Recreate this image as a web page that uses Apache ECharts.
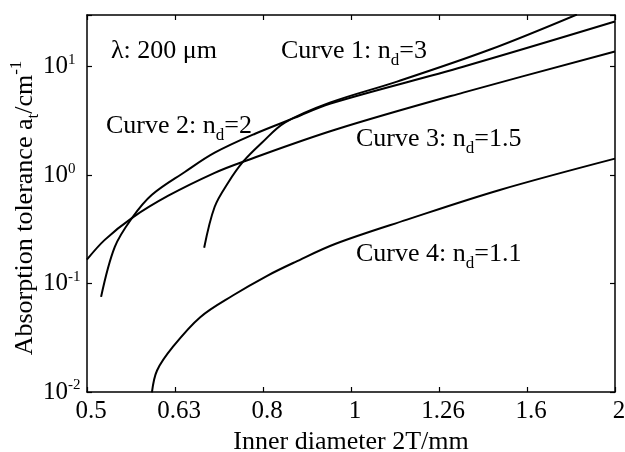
<!DOCTYPE html>
<html><head><meta charset="utf-8">
<script src="https://cdn.jsdelivr.net/npm/echarts@6/dist/echarts.min.js"></script>
<style>html,body{margin:0;padding:0;background:#fff}#c{width:625px;height:452px}</style>
</head><body><div id="c"></div>
<script>
// ---- data ----
const xTickLabels = ['0.5', '0.63', '0.8', '1', '1.26', '1.6', '2'];
const yTickExponents = [-2, -1, 0, 1];

// Curve 1: n_d = 3
const curve1X = [0.681, 0.700, 0.725, 0.754, 0.792, 0.841, 0.946, 1.128, 1.439, 1.806];
const curve1Y = [0.214, 0.511, 0.851, 1.33, 1.99, 3.05, 4.66, 7.29, 14.4, 30.3];
// Curve 2: n_d = 2
const curve2X = [0.520, 0.539, 0.564, 0.594, 0.648, 0.700, 0.778, 0.864, 0.946, 1.341, 1.995];
const curve2Y = [0.0754, 0.218, 0.404, 0.659, 1.075, 1.61, 2.41, 3.39, 4.56, 10.0, 26.1];
// Curve 3: n_d = 1.5
const curve3X = [0.501, 0.525, 0.564, 0.620, 0.700, 0.754, 0.959, 1.341, 1.995];
const curve3Y = [0.166, 0.253, 0.404, 0.646, 1.05, 1.33, 2.62, 5.77, 13.8];
// Curve 4: n_d = 1.1
const curve4X = [0.594, 0.602, 0.628, 0.674, 0.734, 0.803, 0.864, 0.959, 1.158, 1.476, 1.995];
const curve4Y = [0.0099, 0.0158, 0.0263, 0.049, 0.0776, 0.118, 0.158, 0.232, 0.389, 0.73, 1.42];

const annotations = [
  { text: '{m|λ: 200 μm}', x: 111, y: 51 },
  { text: '{m|Curve 1: n}{s|d}{m|=3}', x: 281, y: 51 },
  { text: '{m|Curve 2: n}{s|d}{m|=2}', x: 106, y: 126 },
  { text: '{m|Curve 3: n}{s|d}{m|=1.5}', x: 356, y: 139 },
  { text: '{m|Curve 4: n}{s|d}{m|=1.1}', x: 356, y: 254 }
];

// ---- chart ----
const FONT = 'Liberation Serif';
const zip = (xs, ys) => xs.map((x, i) => [x, ys[i]]);
const richMS = {
  m: { fontSize: 26, fontFamily: FONT, color: '#000', lineHeight: 36 },
  s: { fontSize: 17, fontFamily: FONT, color: '#000', lineHeight: 17, verticalAlign: 'bottom' }
};

const axisLineStyle = { color: '#000', width: 1.5 };
function xLabel(v) {
  const k = Math.log10(v) * 10;
  const r = Math.round(k);
  if (Math.abs(k - r) > 0.05) return '';
  const s = xTickLabels[r + 3];
  return s === undefined ? '' : s;
}
function yLabel(v) {
  const k = Math.log10(v);
  const r = Math.round(k);
  if (Math.abs(k - r) > 0.01 || yTickExponents.indexOf(r) < 0) return '';
  return '{b|10}{p|' + r + '}';
}

const baseX = {
  type: 'log', logBase: Math.pow(10, 0.1),
  min: Math.pow(10, -0.3), max: Math.pow(10, 0.3),
  splitNumber: 6,
  axisLine: { show: true, lineStyle: axisLineStyle },
  axisTick: { show: true, inside: true, length: 5, lineStyle: { color: '#000', width: 1.2 } },
  splitLine: { show: false }, minorTick: { show: false }
};
const baseY = {
  type: 'log', logBase: 10, min: 0.01, max: 30,
  axisLine: { show: true, lineStyle: axisLineStyle },
  axisTick: { show: true, inside: true, length: 5, lineStyle: { color: '#000', width: 1.2 } },
  splitLine: { show: false }, minorTick: { show: false }
};

const mkSeries = (xs, ys, name) => ({
  type: 'line', name, data: zip(xs, ys), xAxisIndex: 0, yAxisIndex: 0,
  showSymbol: false, symbol: 'none', smooth: 0.35, clip: true,
  lineStyle: { color: '#000', width: 2 }, silent: true, animation: false
});

const chart = echarts.init(document.getElementById('c'), null, { renderer: 'canvas' });
chart.setOption({
  animation: false,
  backgroundColor: '#fff',
  grid: { left: 87, right: 10, top: 15, bottom: 60, containLabel: false, outerBoundsMode: 'none' },
  xAxis: [
    Object.assign({}, baseX, {
      position: 'bottom',
      axisLabel: { formatter: xLabel, fontSize: 25, fontFamily: FONT, color: '#000', margin: 7, padding: [0, 0, 0, 8] },
      name: 'Inner diameter 2T/mm', nameLocation: 'middle', nameGap: 36,
      nameTextStyle: { fontSize: 26, fontFamily: FONT, color: '#000' }
    }),
    Object.assign({}, baseX, { position: 'top', axisLabel: { show: false } })
  ],
  yAxis: [
    Object.assign({}, baseY, {
      position: 'left',
      axisLabel: {
        formatter: yLabel, align: 'left', margin: 44,
        rich: {
          b: { fontSize: 25, fontFamily: FONT, color: '#000', lineHeight: 28 },
          p: { fontSize: 15, fontFamily: FONT, color: '#000', lineHeight: 16, verticalAlign: 'top' }
        }
      }
    }),
    Object.assign({}, baseY, { position: 'right', axisLabel: { show: false } })
  ],
  series: [
    mkSeries(curve1X, curve1Y, 'Curve 1'),
    mkSeries(curve2X, curve2Y, 'Curve 2'),
    mkSeries(curve3X, curve3Y, 'Curve 3'),
    mkSeries(curve4X, curve4Y, 'Curve 4')
  ],
  graphic: annotations.map(a => ({
    type: 'text', x: a.x, y: a.y, silent: true,
    style: { text: a.text, align: 'left', verticalAlign: 'middle', rich: richMS }
  })).concat([{
    type: 'text', x: 25, y: 208, rotation: Math.PI / 2, silent: true,
    style: {
      text: '{m|Absorption tolerance a}{s|t}{m|/cm}{u|-1}',
      align: 'center', verticalAlign: 'middle',
      rich: {
        m: { fontSize: 26, fontFamily: FONT, color: '#000', lineHeight: 34 },
        s: { fontSize: 17, fontFamily: FONT, color: '#000', lineHeight: 17, verticalAlign: 'bottom' },
        u: { fontSize: 17, fontFamily: FONT, color: '#000', lineHeight: 17, verticalAlign: 'top' }
      }
    }
  }])
});
</script></body></html>
